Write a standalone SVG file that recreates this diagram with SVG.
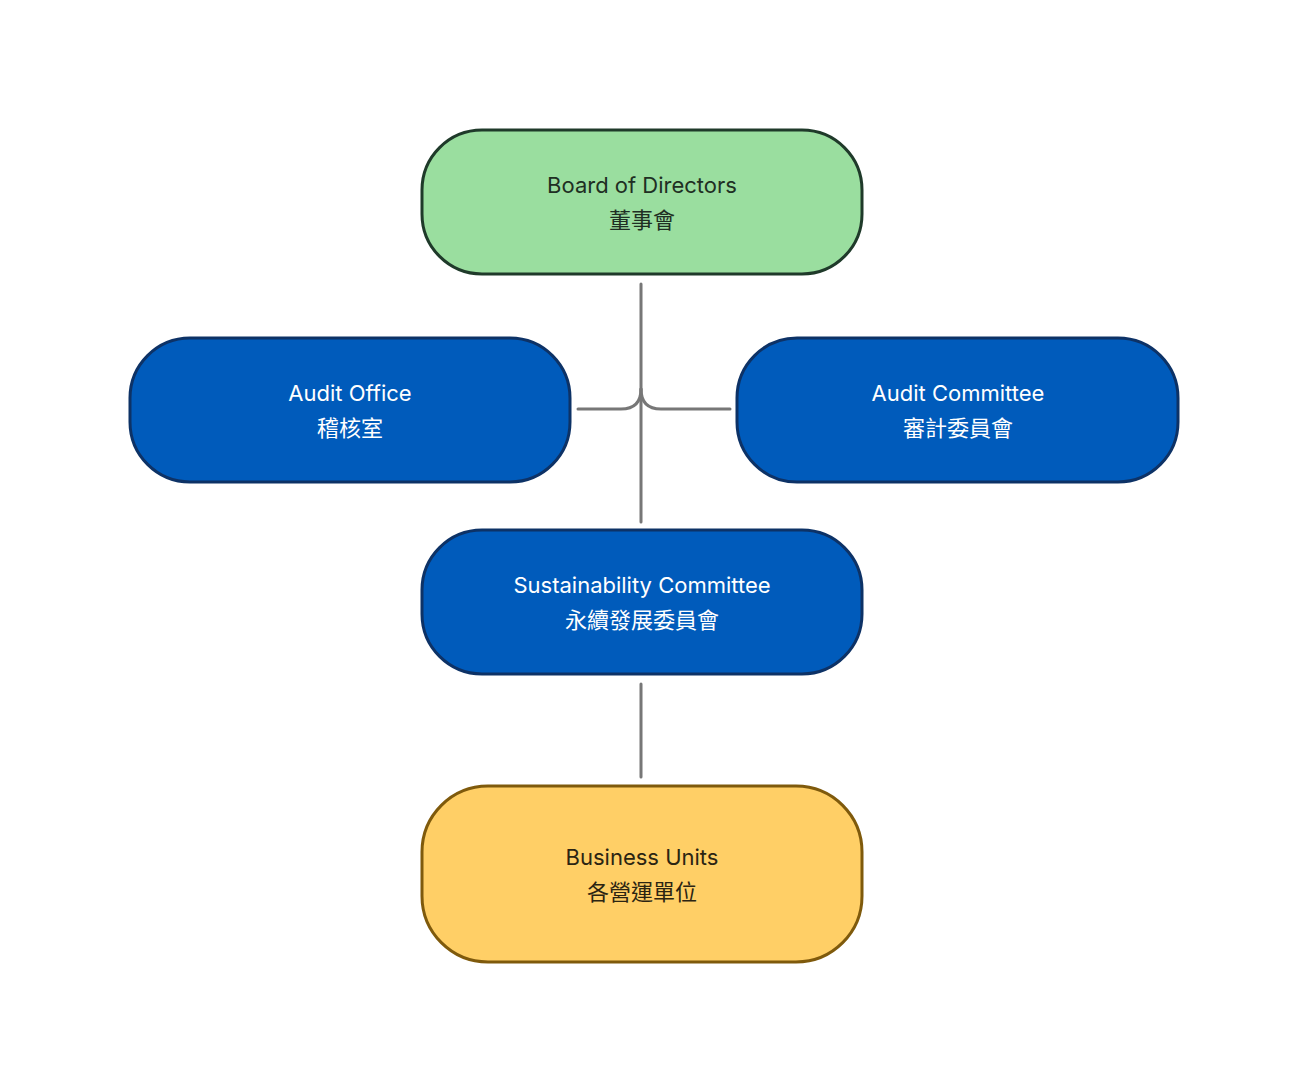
<svg xmlns="http://www.w3.org/2000/svg" width="1308" height="1092" viewBox="0 0 1308 1092">
<style>
.n{stroke-width:3}
.t{font-family:Inter,"Noto Sans CJK TC",sans-serif;font-size:22px;text-anchor:middle}
.c{fill:none;stroke:#777;stroke-width:3;stroke-linecap:round}
</style>
<rect width="1308" height="1092" fill="#fff"/>
<g id="connectors">
<path class="c" d="M641 284V522"/>
<path class="c" d="M641 684V777"/>
<path class="c" d="M578 409H621Q641 409 641 389"/>
<path class="c" d="M730 409H661Q641 409 641 389"/>
</g>
<g id="board"><rect class="n" x="422" y="130" width="440" height="144" rx="60" fill="#9ade9f" stroke="#1f3a2a"/>
<text class="t" x="642" y="193" fill="#1f2f23">Board of Directors</text><text class="t" x="642" y="228" fill="#1f2f23">董事會</text></g>
<g id="auditoffice"><rect class="n" x="130" y="338" width="440" height="144" rx="60" fill="#005bbb" stroke="#0d3266"/>
<text class="t" x="350" y="401" fill="#fff">Audit Office</text><text class="t" x="350" y="436" fill="#fff">稽核室</text></g>
<g id="auditcommittee"><rect class="n" x="737" y="338" width="441" height="144" rx="60" fill="#005bbb" stroke="#0d3266"/>
<text class="t" x="958" y="401" fill="#fff">Audit Committee</text><text class="t" x="958" y="436" fill="#fff">審計委員會</text></g>
<g id="sustain"><rect class="n" x="422" y="530" width="440" height="144" rx="60" fill="#005bbb" stroke="#0d3266"/>
<text class="t" x="642" y="593" fill="#fff">Sustainability Committee</text><text class="t" x="642" y="628" fill="#fff">永續發展委員會</text></g>
<g id="business"><rect class="n" x="422" y="786" width="440" height="176" rx="66" fill="#ffcf66" stroke="#7f5a0c"/>
<text class="t" x="642" y="865" fill="#2b2412">Business Units</text><text class="t" x="642" y="900" fill="#2b2412">各營運單位</text></g>
</svg>
